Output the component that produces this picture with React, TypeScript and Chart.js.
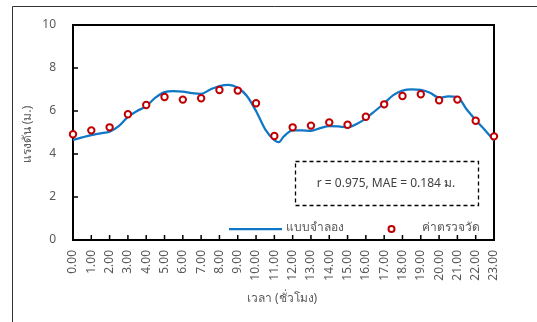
import React, { useEffect, useRef } from "react";
import { Chart, registerables } from "chart.js";

Chart.register(...registerables);

const hours = [0, 1, 2, 3, 4, 5, 6, 7, 8, 9, 10, 11, 12, 13, 14, 15, 16, 17, 18, 19, 20, 21, 22, 23];
const tickLabels = [
  "0.00", "1.00", "2.00", "3.00", "4.00", "5.00", "6.00", "7.00", "8.00", "9.00", "10.00", "11.00",
  "12.00", "13.00", "14.00", "15.00", "16.00", "17.00", "18.00", "19.00", "20.00", "21.00", "22.00", "23.00",
];
const observed = [
  4.92, 5.1, 5.24, 5.85, 6.28, 6.65, 6.53, 6.59, 6.98, 6.95, 6.36, 4.84,
  5.24, 5.32, 5.47, 5.36, 5.73, 6.31, 6.7, 6.78, 6.5, 6.53, 5.55, 4.82,
];
const modelTimes = [
  0, 0.5, 1, 1.5, 2, 2.5, 3, 3.5, 4, 4.5, 5, 5.5, 6, 6.5, 7, 7.5, 8, 8.5, 9, 9.5, 10, 10.5, 11, 11.25, 11.5,
  12, 12.5, 13, 13.5, 14, 14.5, 15, 15.5, 16, 16.5, 17, 17.5, 18, 18.5, 19, 19.5, 20, 20.5, 21, 21.5, 22, 22.5, 23,
];
const modelValues = [
  4.65, 4.77, 4.88, 4.96, 5.04, 5.3, 5.73, 6.0, 6.23, 6.62, 6.88, 6.93, 6.9, 6.83, 6.8, 7.0, 7.16, 7.22, 7.08, 6.7,
  6.0, 5.15, 4.65, 4.55, 4.8,
  5.1, 5.1, 5.08, 5.2, 5.3, 5.28, 5.24, 5.4, 5.66, 6.0, 6.36, 6.74, 6.95, 7.01, 6.98, 6.85, 6.62, 6.68, 6.65, 6.08,
  5.58, 5.12, 4.62,
];
const yTicks = [0, 2, 4, 6, 8, 10];

const seriesNames = ["แบบจำลอง", "ค่าตรวจวัด"];
const annotationText = "r = 0.975, MAE = 0.184 ม.";
const xTitle = "เวลา (ชั่วโมง)";
const yTitle = "แรงดัน (ม.)";

const FONT = "Tahoma, 'Noto Sans', 'DejaVu Sans', sans-serif";
const GRAY = "#595959";
const BLUE = "#0E77C6";
const RED = "#C00000";

const decor = {
  id: "decor",
  beforeDatasetsDraw(chart: any) {
    const { ctx, chartArea: a, scales } = chart;
    ctx.save();
    // outer frame
    ctx.strokeStyle = "#333";
    ctx.lineWidth = 1;
    ctx.beginPath();
    ctx.moveTo(12.5, 322);
    ctx.lineTo(12.5, 6.5);
    ctx.lineTo(537, 6.5);
    ctx.stroke();

    // plot border
    ctx.strokeStyle = "#000";
    ctx.lineWidth = 2;
    ctx.strokeRect(a.left, a.top, a.right - a.left, a.bottom - a.top);

    // inside ticks
    ctx.lineWidth = 1.5;
    ctx.beginPath();
    hours.forEach((h) => {
      const x = scales.x.getPixelForValue(h);
      ctx.moveTo(x, a.bottom);
      ctx.lineTo(x, a.bottom - 5);
    });
    yTicks.forEach((v) => {
      const y = scales.y.getPixelForValue(v);
      ctx.moveTo(a.left, y);
      ctx.lineTo(a.left + 5, y);
    });
    ctx.stroke();

    // annotation box
    ctx.lineWidth = 1.3;
    ctx.setLineDash([4, 3]);
    ctx.strokeRect(295.5, 161.5, 183, 44);
    ctx.setLineDash([]);
    ctx.fillStyle = "#404040";
    ctx.font = `12px ${FONT}`;
    ctx.textAlign = "center";
    ctx.textBaseline = "middle";
    ctx.fillText(annotationText, 386, 184);

    // legend
    ctx.strokeStyle = BLUE;
    ctx.lineWidth = 2.25;
    ctx.beginPath();
    ctx.moveTo(229, 229);
    ctx.lineTo(282, 229);
    ctx.stroke();
    ctx.fillStyle = GRAY;
    ctx.textAlign = "left";
    ctx.fillText(seriesNames[0], 286, 228);
    ctx.fillText(seriesNames[1], 422, 228);
    ctx.beginPath();
    ctx.arc(391.5, 229, 3, 0, Math.PI * 2);
    ctx.fillStyle = "#fff";
    ctx.fill();
    ctx.strokeStyle = RED;
    ctx.lineWidth = 2;
    ctx.stroke();

    // axis titles
    ctx.fillStyle = GRAY;
    ctx.font = `12px ${FONT}`;
    ctx.textAlign = "center";
    ctx.fillText(xTitle, 282, 299);
    ctx.save();
    ctx.translate(28, (a.top + a.bottom) / 2 + 2);
    ctx.rotate(-Math.PI / 2);
    ctx.fillText(yTitle, 0, 0);
    ctx.restore();

    ctx.restore();
  },
};

export default function App() {
  const ref = useRef<HTMLCanvasElement | null>(null);
  useEffect(() => {
    if (!ref.current) return;
    const chart = new Chart(ref.current, {
      type: "line",
      data: {
        datasets: [
          {
            label: seriesNames[0],
            data: modelTimes.map((t, i) => ({ x: t, y: modelValues[i] })),
            borderColor: BLUE,
            borderWidth: 2.25,
            pointRadius: 0,
            cubicInterpolationMode: "monotone",
            fill: false,
            order: 2,
          },
          {
            label: seriesNames[1],
            data: hours.map((h, i) => ({ x: h, y: observed[i] })),
            showLine: false,
            pointRadius: 3.2,
            pointBorderWidth: 2,
            pointBorderColor: RED,
            pointBackgroundColor: "#fff",
            clip: false as any,
            order: 1,
          },
        ],
      },
      options: {
        responsive: false,
        animation: false,
        layout: { padding: { left: 0, top: 25, right: 43, bottom: 0 } },
        plugins: { legend: { display: false }, tooltip: { enabled: false } },
        scales: {
          x: {
            type: "linear",
            min: 0,
            max: 23,
            grid: { display: false, drawTicks: false },
            border: { display: false },
            ticks: {
              stepSize: 1,
              autoSkip: false,
              minRotation: 90,
              maxRotation: 90,
              padding: 10,
              color: GRAY,
              font: { family: FONT, size: 12 },
              callback: (v: any) => tickLabels[hours.indexOf(Number(v))] ?? "",
            },
            afterFit: (s: any) => {
              s.height = 82;
            },
          },
          y: {
            min: 0,
            max: 10,
            grid: { display: false, drawTicks: false },
            border: { display: false },
            ticks: {
              stepSize: 2,
              padding: 17,
              color: GRAY,
              font: { family: FONT, size: 12 },
            },
            afterFit: (s: any) => {
              s.width = 73;
            },
          },
        },
      },
      plugins: [decor],
    });
    return () => chart.destroy();
  }, []);
  return (
    <div style={{ position: "fixed", left: 0, top: 0, width: 537, height: 322, background: "#fff" }}>
      <canvas ref={ref} width={537} height={322} />
    </div>
  );
}
